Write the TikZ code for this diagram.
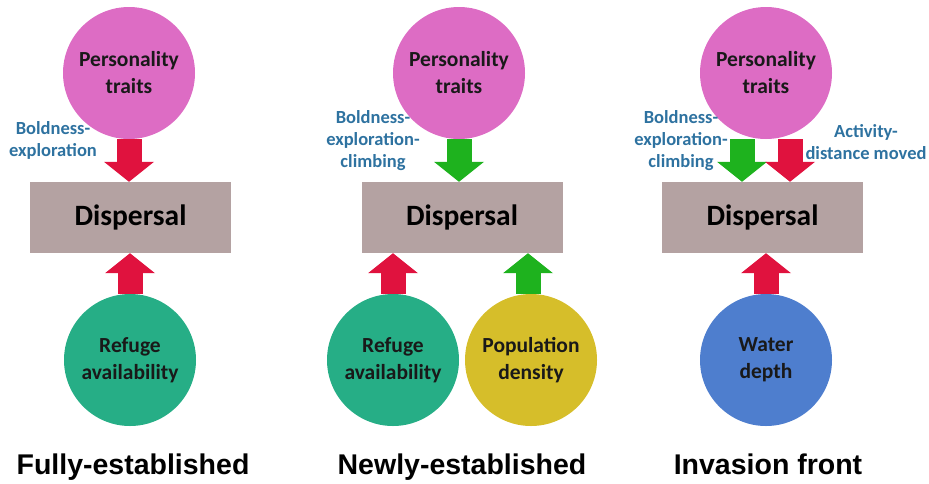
\documentclass[tikz,border=0pt]{standalone}
\usepackage{fontspec}
\setmainfont{Carlito}
\newfontfamily\titlefont{Liberation Sans}
\usepackage{xcolor}
\usetikzlibrary{arrows.meta}
\definecolor{traitpink}{RGB}{221,108,196}
\definecolor{disperse}{RGB}{180,162,162}
\definecolor{arrowred}{RGB}{224,18,62}
\definecolor{arrowgreen}{RGB}{30,178,30}
\definecolor{refugeteal}{RGB}{38,174,134}
\definecolor{densgold}{RGB}{214,190,42}
\definecolor{waterblue}{RGB}{78,126,206}
\definecolor{cueblue}{RGB}{46,114,160}
\tikzset{
    bubble/.style = {circle, align=center, inner sep=0pt, minimum size=132pt, text=black!90,
                     font=\fontsize{21.5}{27}\selectfont\bfseries},
    pink_node/.style = {bubble, fill=traitpink},
    teal_node/.style = {bubble, fill=refugeteal},
    gold_node/.style = {bubble, fill=densgold},
    blue_node/.style = {bubble, fill=waterblue},
    disp_box/.style = {rectangle, fill=disperse, minimum width=201pt, minimum height=71pt, inner sep=0pt,
                       font=\fontsize{29.5}{33}\selectfont\bfseries},
    cue_text/.style = {align=center, inner sep=0pt, text=cueblue, font=\fontsize{18.5}{22}\selectfont\bfseries},
    title_text/.style = {anchor=base, inner sep=0pt, font=\fontsize{28.5}{32}\selectfont\titlefont\bfseries},
    red_arrow/.style = {->, line width=25pt, draw=arrowred},
    green_arrow/.style = {->, line width=25pt, draw=arrowgreen}
}
\begin{document}
\begin{tikzpicture}
    [x=1pt, y=-1pt,
    >={Triangle[width=50pt,length=20pt,line width=0pt]}]
    \useasboundingbox (0,0) rectangle (929,483);

    % fully-established
    \node [pink_node] (pt1) at (129,73) {Personality\\traits};
    \node [disp_box] (box1) at (130.5,217.5) {Dispersal};
    \node [teal_node] (ref1) at (130,360) {Refuge\\availability};
    \node [cue_text] (cue1) at (53,140) {Boldness-\\exploration};
    \node [title_text] (tit1) at (133,474) {Fully-established};
    \draw [red_arrow] (pt1.south) -- (pt1.south |- box1.north);
    \draw [red_arrow] (ref1.north) -- (ref1.north |- box1.south);

    % newly-established
    \node [pink_node] (pt2) at (459,73) {Personality\\traits};
    \node [disp_box] (box2) at (462,217.5) {Dispersal};
    \node [teal_node] (ref2) at (393,360) {Refuge\\availability};
    \node [gold_node] (pop2) at (531,360) {Population\\density};
    \node [cue_text] (cue2) at (373,141) {Boldness-\\exploration-\\climbing};
    \node [title_text] (tit2) at (462,474) {Newly-established};
    \draw [green_arrow] (pt2.south) -- (pt2.south |- box2.north);
    \draw [red_arrow] (ref2.north) -- (ref2.north |- box2.south);
    \draw [green_arrow] ([xshift=-3pt]pop2.north) -- ([xshift=-3pt]pop2.north |- box2.south);

    % invasion front
    \node [pink_node] (pt3) at (766,73) {Personality\\traits};
    \node [disp_box] (box3) at (762.5,217.5) {Dispersal};
    \node [blue_node] (wat3) at (766,360) {Water\\depth};
    \node [cue_text] (cue3) at (681,141) {Boldness-\\exploration-\\climbing};
    \node [cue_text] (cue4) at (866,142) {Activity-\\distance moved};
    \node [title_text] (tit3) at (768,474) {Invasion front};
    \draw [green_arrow] ([xshift=-24pt]pt3.south) -- ([xshift=-24pt]pt3.south |- box3.north);
    \draw [red_arrow] ([xshift=24pt]pt3.south) -- ([xshift=24pt]pt3.south |- box3.north);
    \draw [red_arrow] (wat3.north) -- (wat3.north |- box3.south);
\end{tikzpicture}
\end{document}
